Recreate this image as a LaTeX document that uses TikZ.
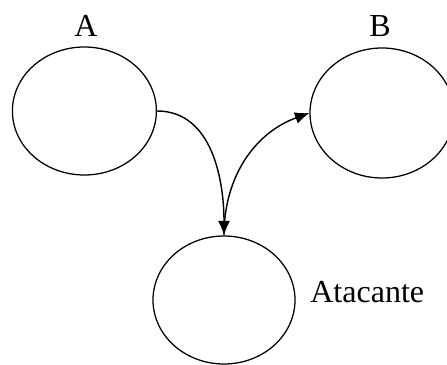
\documentclass[tikz,border=0pt]{standalone}
\usepackage{fontspec}
\setmainfont{Liberation Serif}
\usetikzlibrary{shapes.geometric,arrows.meta}
\begin{document}
\begin{tikzpicture}[
    agent/.style={draw,ellipse,line width=0.9pt,inner sep=0pt},
    flow/.style={-{Latex[length=3.6mm,width=3mm]},line width=1pt},
    lbl/.style={font=\fontsize{22.8}{27}\selectfont,inner sep=0pt}]
    \useasboundingbox (0,0) rectangle (11.175,9.125);

    % Ellipses
    \node[agent,minimum width=3.6cm,minimum height=3.2cm] (a) at (2.11,6.35) {};
    \node[agent,minimum width=3.6cm,minimum height=3.25cm] (b) at (9.55,6.3) {};
    \node[agent,minimum width=3.55cm,minimum height=3.2cm] (atk) at (5.6,1.625) {};

    % Labels
    \node[lbl] (la) at (2.15,8.475) {A};
    \node[lbl] (lb) at (9.5,8.475) {B};
    \node[lbl,anchor=base west] (latk) at (7.75,1.55) {Atacante};

    % Arrows
    \draw[flow] (a.east) to[out=0,in=90] (atk.north);
    \draw[flow] (atk.north) to[out=90,in=200] (b.west);
\end{tikzpicture}
\end{document}
